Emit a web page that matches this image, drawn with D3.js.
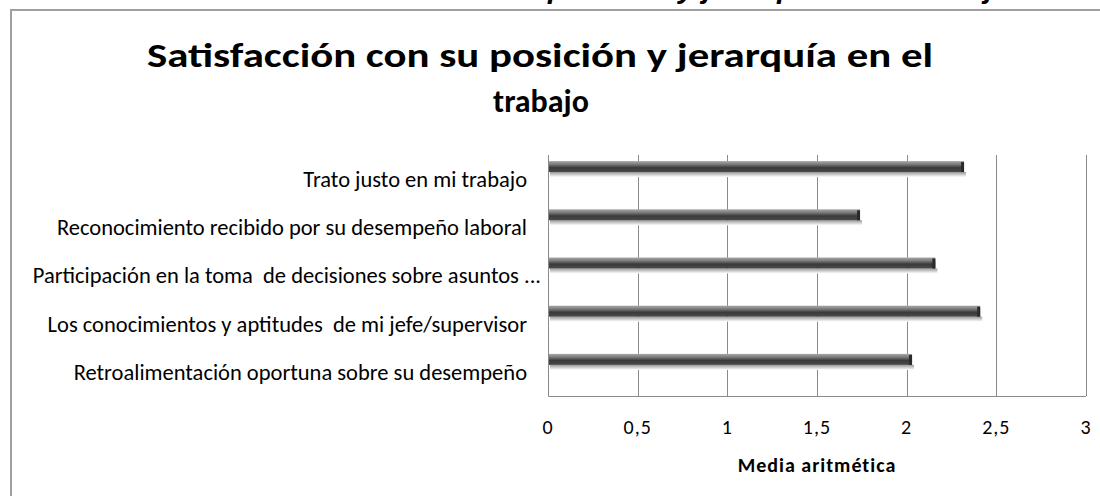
<!DOCTYPE html>
<html>
<head>
<meta charset="utf-8">
<script src="https://cdn.jsdelivr.net/npm/d3@7"></script>
<style>
  body { margin: 0; background: #fff; }
  svg { display: block; font-family: Carlito, Lato, "Open Sans", sans-serif; }
</style>
</head>
<body>
<div class="chart"></div>
<script>
// data
var categories = [
  "Trato justo en mi trabajo",
  "Reconocimiento recibido por su desempeño laboral",
  "Participación en la toma  de decisiones sobre asuntos ...",
  "Los conocimientos y aptitudes  de mi jefe/supervisor",
  "Retroalimentación oportuna sobre su desempeño"
];
var medias = [2.32, 1.74, 2.16, 2.41, 2.03];
var ticks = [0, 0.5, 1, 1.5, 2, 2.5, 3];
var tickLabels = ["0", "0,5", "1", "1,5", "2", "2,5", "3"];
var caption = "Satisfacción con su posición y jerarquía en el trabajo";

var width = 1100, height = 496;
var margin = {top: 155, right: 14, bottom: 100, left: 548};

var svg = d3.select(".chart").append("svg")
    .attr("width", width)
    .attr("height", height);

var defs = svg.append("defs");
var grad = defs.append("linearGradient")
    .attr("id", "barGrad")
    .attr("x1", 0).attr("y1", 0).attr("x2", 0).attr("y2", 1);
grad.append("stop").attr("offset", "0%").attr("stop-color", "#a8a8a8");
grad.append("stop").attr("offset", "30%").attr("stop-color", "#7a7a7a");
grad.append("stop").attr("offset", "60%").attr("stop-color", "#3a3a3a");
grad.append("stop").attr("offset", "100%").attr("stop-color", "#4a4a4a");

var shadow = defs.append("linearGradient")
    .attr("id", "shadowGrad")
    .attr("x1", 0).attr("y1", 0).attr("x2", 0).attr("y2", 1);
shadow.append("stop").attr("offset", "0%").attr("stop-color", "#9a9a9a");
shadow.append("stop").attr("offset", "100%").attr("stop-color", "#ffffff");

// cut-off caption above the chart box (only the descenders show)
var cap = svg.append("text")
    .attr("x", 0)
    .attr("y", -2)
    .style("font-family", "'Liberation Sans', Arial, sans-serif")
    .style("font-size", "25px")
    .style("font-weight", "bold")
    .style("font-style", "italic")
    .text(caption);
var capNode = cap.node();
var iP = caption.indexOf("posición"), iJ = caption.lastIndexOf("j");
var span = capNode.getStartPositionOfChar(iJ).x - capNode.getStartPositionOfChar(iP).x;
cap.style("font-size", (25 * 437 / span) + "px");
cap.attr("x", 548 - capNode.getStartPositionOfChar(iP).x);

// chart box border
svg.append("path")
    .attr("d", "M11," + height + "V10H" + width)
    .attr("fill", "none")
    .attr("stroke", "#a0a0a0")
    .attr("stroke-width", 2);

// title
var title = svg.append("text")
    .attr("text-anchor", "middle")
    .style("font-size", "35px")
    .style("font-weight", "bold");
title.append("tspan").attr("x", 540).attr("y", 67)
    .attr("textLength", 786)
    .attr("lengthAdjust", "spacingAndGlyphs")
    .text("Satisfacción con su posición y jerarquía en el");
title.append("tspan").attr("x", 541).attr("y", 112)
    .style("font-size", "32px")
    .text("trabajo");

var x = d3.scaleLinear()
    .domain([0, 3])
    .range([margin.left, width - margin.right]);

var y = d3.scaleBand()
    .domain(categories)
    .range([margin.top, height - margin.bottom]);

// gridlines
svg.append("g")
    .selectAll("line")
    .data(ticks.slice(1))
  .enter().append("line")
    .attr("x1", function(d) { return Math.round(x(d)) + 0.5; })
    .attr("x2", function(d) { return Math.round(x(d)) + 0.5; })
    .attr("y1", margin.top)
    .attr("y2", height - margin.bottom)
    .attr("stroke", "#8a8a8a");

// axis lines
svg.append("path")
    .attr("d", "M" + (margin.left + 0.5) + "," + margin.top + "V" + (height - margin.bottom + 0.5) + "H" + (width - margin.right))
    .attr("fill", "none")
    .attr("stroke", "#8a8a8a");

// x tick labels
svg.append("g")
    .selectAll("text")
    .data(ticks)
  .enter().append("text")
    .attr("x", function(d) { return x(d); })
    .attr("y", 434)
    .attr("text-anchor", "middle")
    .style("font-size", "20px")
    .style("letter-spacing", "1px")
    .text(function(d, i) { return tickLabels[i]; });

// axis title
svg.append("text")
    .attr("x", 817)
    .attr("y", 472)
    .attr("text-anchor", "middle")
    .style("font-size", "20px")
    .style("font-weight", "bold")
    .style("letter-spacing", "1px")
    .text("Media aritmética");

// category labels (the truncated one runs past the others, as in Excel)
svg.append("g")
    .selectAll("text")
    .data(categories)
  .enter().append("text")
    .attr("x", function(d) { return /\.\.\.$/.test(d) ? 541 : 527; })
    .attr("y", function(d) { return y(d) + y.bandwidth() / 2; })
    .attr("dy", "0.35em")
    .attr("text-anchor", "end")
    .style("font-size", "22.5px")
    .style("white-space", "pre")
    .text(function(d) { return d; });

// bars (sit a bit above the band centre, like the original)
var barH = 11;
var bars = svg.append("g")
    .selectAll("g")
    .data(medias)
  .enter().append("g")
    .attr("transform", function(d, i) {
      return "translate(0," + (y(categories[i]) + y.bandwidth() / 2 - 12.5 - barH / 2) + ")";
    });

bars.append("rect")
    .attr("x", x(0) + 2)
    .attr("y", barH)
    .attr("width", function(d) { return x(d) - x(0); })
    .attr("height", 5)
    .attr("fill", "url(#shadowGrad)");

bars.append("rect")
    .attr("x", x(0) + 1)
    .attr("y", 0)
    .attr("width", function(d) { return x(d) - x(0) - 1; })
    .attr("height", barH)
    .attr("fill", "url(#barGrad)");

bars.append("rect")
    .attr("x", function(d) { return x(d) - 3; })
    .attr("y", 1)
    .attr("width", 3)
    .attr("height", barH - 1)
    .attr("fill", "#2a2a2a");
</script>
</body>
</html>
